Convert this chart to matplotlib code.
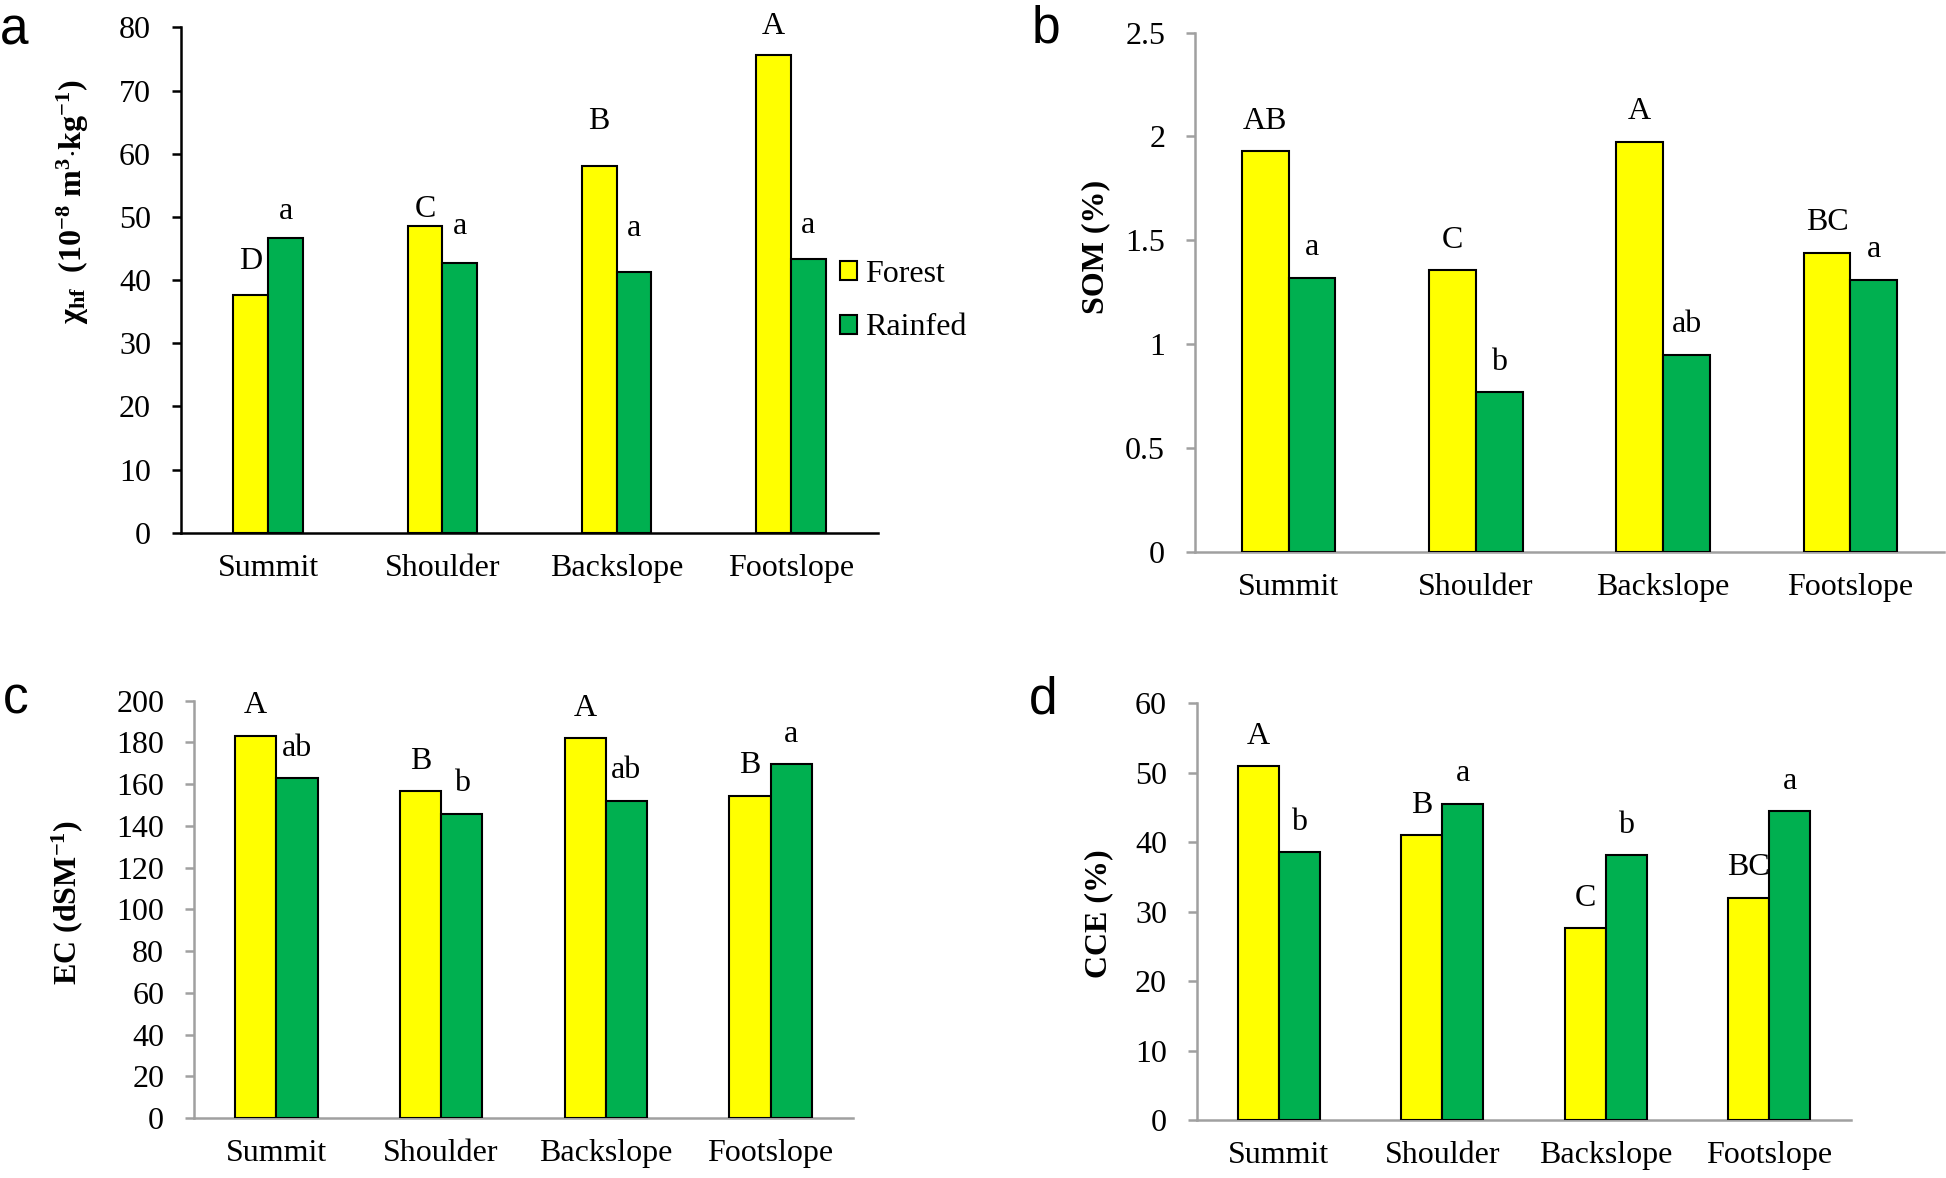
import matplotlib
matplotlib.use('Agg')
import numpy as np
import matplotlib.pyplot as plt

plt.rcParams['font.family'] = ['Liberation Serif', 'DejaVu Serif']
plt.rcParams['mathtext.fontset'] = 'custom'
plt.rcParams['mathtext.rm'] = 'Liberation Serif'
plt.rcParams['mathtext.bf'] = 'Liberation Serif:bold'
plt.rcParams['mathtext.it'] = 'Liberation Serif:italic'

positions = ['Summit', 'Shoulder', 'Backslope', 'Footslope']

# magnetic susceptibility
chi_forest = [37.7, 48.6, 58.1, 75.6]
chi_rainfed = [46.6, 42.7, 41.2, 43.4]
chi_forest_letters = ['D', 'C', 'B', 'A']
chi_rainfed_letters = ['a', 'a', 'a', 'a']

# soil organic matter
som_forest = [1.93, 1.355, 1.975, 1.44]
som_rainfed = [1.32, 0.77, 0.95, 1.31]
som_forest_letters = ['AB', 'C', 'A', 'BC']
som_rainfed_letters = ['a', 'b', 'ab', 'a']

# electrical conductivity
ec_forest = [183.1, 156.5, 181.9, 154.5]
ec_rainfed = [162.7, 145.8, 152.1, 169.4]
ec_forest_letters = ['A', 'B', 'A', 'B']
ec_rainfed_letters = ['ab', 'b', 'ab', 'a']

# calcium carbonate equivalent
cce_forest = [50.9, 41.0, 27.6, 32.0]
cce_rainfed = [38.5, 45.5, 38.1, 44.4]
cce_forest_letters = ['A', 'B', 'C', 'BC']
cce_rainfed_letters = ['b', 'a', 'b', 'a']

YELLOW = '#FFFF00'
GREEN = '#00B050'
FS = 23


def draw_panel(ax, forest, rainfed, f_letters, r_letters, ylim, step, ylabel,
               label_xy, width=0.25, spine_color='#A0A0A0',
               f_off=None, r_off=None, ticklabels=None):
    x = np.arange(len(positions))
    bf = ax.bar(x - width / 2, forest, width, color=YELLOW, edgecolor='black',
                linewidth=1.5, label='Forest', zorder=3)
    br = ax.bar(x + width / 2, rainfed, width, color=GREEN, edgecolor='black',
                linewidth=1.5, label='Rainfed', zorder=3)

    # significance letters above the bars
    if f_off is None:
        f_off = [21.5] * len(positions)
    if r_off is None:
        r_off = [21.5] * len(positions)
    for i in range(len(positions)):
        ax.annotate(f_letters[i], (x[i] - width / 2, forest[i]),
                    xytext=(0, f_off[i]), textcoords='offset points',
                    ha='center', va='center', fontsize=FS)
        ax.annotate(r_letters[i], (x[i] + width / 2, rainfed[i]),
                    xytext=(0, r_off[i]), textcoords='offset points',
                    ha='center', va='center', fontsize=FS)

    ax.set_xlim(-0.5, len(positions) - 0.5)
    ax.set_ylim(*ylim)
    ticks = np.arange(ylim[0], ylim[1] + step / 2, step)
    ax.set_yticks(ticks)
    if ticklabels is not None:
        ax.set_yticklabels(ticklabels)
    ax.set_xticks(x)
    ax.set_xticklabels(positions)

    for s in ['top', 'right']:
        ax.spines[s].set_visible(False)
    for s in ['left', 'bottom']:
        ax.spines[s].set_color(spine_color)
        ax.spines[s].set_linewidth(1.8)
    ax.tick_params(axis='y', direction='out', length=6.5, width=1.8,
                   color=spine_color, labelsize=FS, pad=15)
    ax.tick_params(axis='x', length=0, labelsize=FS, pad=15)

    ax.set_ylabel(ylabel, fontsize=FS, fontweight='bold')
    ax.yaxis.set_label_coords(*label_xy)
    return bf, br


fig = plt.figure(figsize=(19.46, 11.78), dpi=100)

ax_a = fig.add_axes([0.0930, 0.5478, 0.3582, 0.4289])
ax_b = fig.add_axes([0.6141, 0.5314, 0.3849, 0.4410])
ax_c = fig.add_axes([0.0997, 0.0509, 0.3386, 0.3544])
ax_d = fig.add_axes([0.6151, 0.0492, 0.3361, 0.3540])

chi_label = (r'$\mathbf{\chi}_{\mathbf{hf}}$  $\mathbf{(10^{-8}\ m^{3}{\cdot}kg^{-1})}$')
draw_panel(ax_a, chi_forest, chi_rainfed, chi_forest_letters, chi_rainfed_letters,
           (0, 80), 10, chi_label, (-0.129, 0.656), width=0.2, spine_color='black',
           f_off=[24, 11.5, 32, 21], r_off=[19, 26, 32, 24])
ax_a.legend(loc='center left', bbox_to_anchor=(0.945, 0.458), frameon=False,
            fontsize=FS, handlelength=0.55, handleheight=0.55, handletextpad=0.25,
            labelspacing=0.76, borderpad=0, borderaxespad=0)

draw_panel(ax_b, som_forest, som_rainfed, som_forest_letters, som_rainfed_letters,
           (0, 2.5), 0.5, 'SOM (%)', (-0.113, 0.587),
           ticklabels=['0', '0.5', '1', '1.5', '2', '2.5'])

draw_panel(ax_c, ec_forest, ec_rainfed, ec_forest_letters, ec_rainfed_letters,
           (0, 200), 20, r'EC (dSM$^{\mathbf{-1}}$)', (-0.165, 0.517))

draw_panel(ax_d, cce_forest, cce_rainfed, cce_forest_letters, cce_rainfed_letters,
           (0, 60), 10, 'CCE (%)', (-0.128, 0.496))

panel_font = ['Liberation Sans', 'DejaVu Sans']
fig.text(0.0, 0.9626, 'a', fontsize=37, family=panel_font, va='baseline')
fig.text(0.5303, 0.9643, 'b', fontsize=37, family=panel_font, va='baseline')
fig.text(0.0015, 0.3939, 'c', fontsize=37, family=panel_font, va='baseline')
fig.text(0.5288, 0.3939, 'd', fontsize=37, family=panel_font, va='baseline')

fig.savefig('out.png', dpi=100)
